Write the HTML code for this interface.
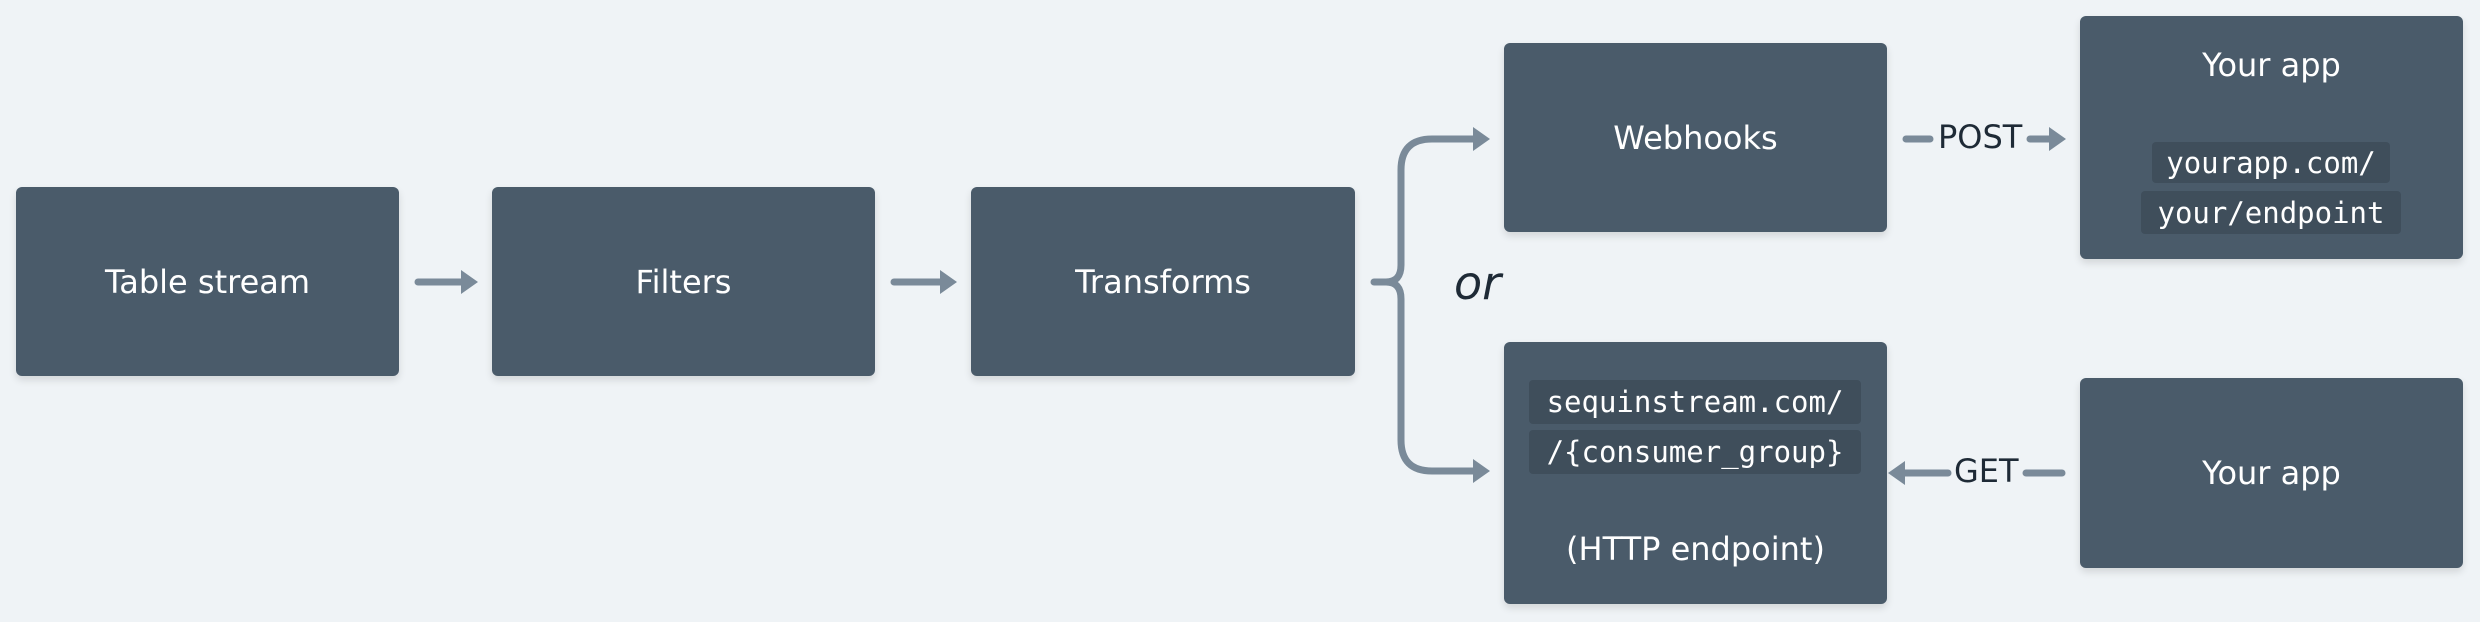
<!DOCTYPE html>
<html><head><style>
html,body{margin:0;padding:0}
body{width:2480px;height:622px;background:#eff3f6;position:relative;overflow:hidden;font-family:"DejaVu Sans","Liberation Sans",sans-serif}
.b{position:absolute;background:#4a5b6a;border-radius:6px;box-shadow:0 4px 8px rgba(0,0,0,0.12);color:#fff;font-size:32px}
.c{display:flex;align-items:center;justify-content:center}
.t{position:absolute;left:0;right:0;text-align:center;color:#fff;font-size:32px}
.code{position:absolute;background:#3f4e5b;border-radius:4px;color:#fff;font-family:"DejaVu Sans Mono","Liberation Mono",monospace;font-size:29px;display:flex;align-items:center;justify-content:center}
.lbl{position:absolute;color:#1e2a36;font-size:32px}
</style></head><body>
<div class="b c" style="left:16px;top:187px;width:383px;height:189px">Table stream</div>
<div class="b c" style="left:492px;top:187px;width:383px;height:189px">Filters</div>
<div class="b c" style="left:971px;top:187px;width:384px;height:189px">Transforms</div>
<div class="b c" style="left:1504px;top:43px;width:383px;height:189px">Webhooks</div>
<div class="b" style="left:1504px;top:342px;width:383px;height:262px">
  <div class="code" style="left:25px;top:38px;width:332px;height:44px">sequinstream.com/</div>
  <div class="code" style="left:25px;top:88px;width:332px;height:44px">/{consumer_group}</div>
  <div class="t" style="top:188px">(HTTP endpoint)</div>
</div>
<div class="b" style="left:2080px;top:16px;width:383px;height:243px">
  <div class="t" style="top:30px">Your app</div>
  <div class="code" style="left:72px;top:126px;width:238px;height:41px">yourapp.com/</div>
  <div class="code" style="left:61px;top:175px;width:260px;height:43px">your/endpoint</div>
</div>
<div class="b c" style="left:2080px;top:378px;width:383px;height:190px">Your app</div>
<div class="lbl" style="left:1454px;top:256px;font-style:italic;font-size:46px">or</div>
<div class="lbl" style="left:1938px;top:118px">POST</div>
<div class="lbl" style="left:1954px;top:452px">GET</div>
<svg width="2480" height="622" style="position:absolute;left:0;top:0" fill="none" stroke="#7a8a99" stroke-width="7" stroke-linecap="round" stroke-linejoin="round">
<g fill="#7a8a99" stroke="none">
<polygon points="461,270 478,282 461,294"/>
<polygon points="940,270 957,282 940,294"/>
<polygon points="1473,127 1490,139 1473,151"/>
<polygon points="1473,459 1490,471 1473,483"/>
<polygon points="2049,127 2066,139 2049,151"/>
<polygon points="1905,461 1888,473 1905,485"/>
</g>
<line x1="418" y1="282" x2="463" y2="282"/>
<line x1="894" y1="282" x2="942" y2="282"/>
<path d="M1374,282 H1386 Q1401,282 1401,265 V170 Q1401,139 1432,139 H1475"/>
<path d="M1386,282 Q1401,282 1401,299 V440 Q1401,471 1432,471 H1475"/>
<line x1="1906" y1="139" x2="1930" y2="139"/>
<line x1="2030" y1="139" x2="2051" y2="139"/>
<line x1="1903" y1="473" x2="1948" y2="473"/>
<line x1="2026" y1="473" x2="2062" y2="473"/>
</svg>
</body></html>
